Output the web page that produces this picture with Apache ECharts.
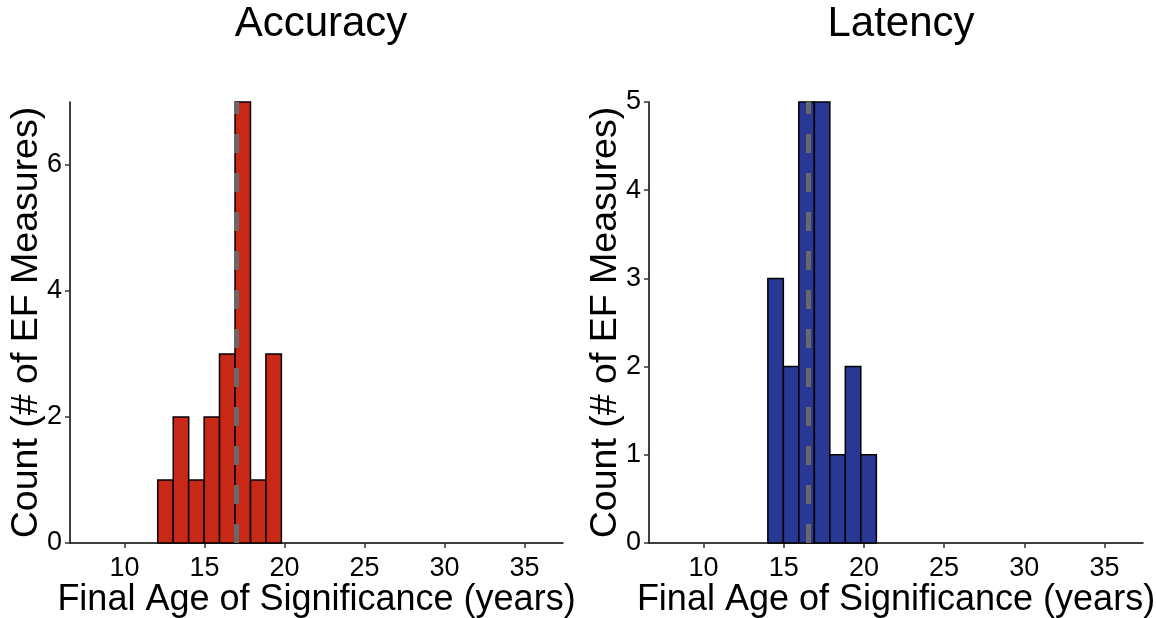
<!DOCTYPE html>
<html>
<head>
<meta charset="utf-8">
<script src="https://cdn.jsdelivr.net/npm/echarts@6/dist/echarts.min.js"></script>
<style>
html,body{margin:0;padding:0;background:#fff;}
#chart{width:1156px;height:618px;}
</style>
</head>
<body>
<div id="chart"></div>
<script>
// ---- data ----
var binWidth = 0.966;
var accBinStarts = [12.08, 13.05, 14.01, 14.98, 15.94, 16.91, 17.88, 18.84];
var accCounts    = [1, 2, 1, 2, 3, 7, 1, 3];
var latBinStarts = [14.01, 14.98, 15.94, 16.91, 17.88, 18.84, 19.81];
var latCounts    = [3, 2, 5, 5, 1, 2, 1];
var accRefLine = 17.0;
var latRefLine = 16.56;
var xTicks = [10, 15, 20, 25, 30, 35];
var accYTicks = [0, 2, 4, 6];
var latYTicks = [0, 1, 2, 3, 4, 5];
var titles = ['Accuracy', 'Latency'];
var xName = 'Final Age of Significance (years)';
var yName = 'Count (# of EF Measures)';

var FONT = '"Liberation Sans", Arial, Helvetica, sans-serif';

function binData(starts, counts){
  return starts.map(function(s,i){ return [s, s + binWidth, counts[i]]; });
}
function renderBar(params, api){
  var p0 = api.coord([api.value(0), api.value(2)]);
  var p1 = api.coord([api.value(1), 0]);
  return {
    type: 'rect',
    shape: {x: p0[0], y: p0[1], width: p1[0]-p0[0], height: p1[1]-p0[1]},
    style: {fill: api.visual('color'), stroke: '#000', lineWidth: 1.5}
  };
}
function xAxisCfg(gi){
  return {
    type: 'value', gridIndex: gi, min: 6.6, max: 37.4,
    name: xName, nameLocation: 'middle', nameGap: 39, nameMoveOverlap: false,
    nameTextStyle: {fontSize: 36, color: '#000', fontFamily: FONT},
    axisLine: {lineStyle: {color: '#000', width: 1.5}},
    axisTick: {customValues: xTicks, length: 5, lineStyle: {color: '#333', width: 1.5}},
    axisLabel: {customValues: xTicks, fontSize: 27, color: '#000', fontFamily: FONT, margin: 12},
    splitLine: {show: false}
  };
}
function yAxisCfg(gi, max, ticks){
  return {
    type: 'value', gridIndex: gi, min: 0, max: max,
    name: yName, nameLocation: 'middle', nameGap: 24, nameMoveOverlap: false,
    nameTextStyle: {fontSize: 37.5, color: '#000', fontFamily: FONT},
    axisLine: {show: true, lineStyle: {color: '#000', width: 1.5}},
    axisTick: {show: true, customValues: ticks, length: 5, lineStyle: {color: '#333', width: 1.5}},
    axisLabel: {customValues: ticks, fontSize: 27, color: '#000', fontFamily: FONT, margin: 8},
    splitLine: {show: false}
  };
}
function refLine(x){
  return {
    silent: true, symbol: ['none','none'], label: {show: false},
    lineStyle: {color: '#686868', width: 5, type: [19, 20]},
    data: [{xAxis: x}]
  };
}

var chart = echarts.init(document.getElementById('chart'), null, {renderer: 'canvas'});
chart.setOption({
  animation: false,
  backgroundColor: '#fff',
  title: [
    {text: titles[0], left: 316, top: -2, textAlign: 'center', textStyle: {fontSize: 42, fontWeight: 'normal', color: '#000', fontFamily: FONT}},
    {text: titles[1], left: 896, top: -2, textAlign: 'center', textStyle: {fontSize: 42, fontWeight: 'normal', color: '#000', fontFamily: FONT}}
  ],
  grid: [
    {left: 70, top: 102, width: 493, height: 441, outerBoundsMode: 'none', containLabel: false},
    {left: 649, top: 102, width: 494, height: 441, outerBoundsMode: 'none', containLabel: false}
  ],
  xAxis: [xAxisCfg(0), xAxisCfg(1)],
  yAxis: [yAxisCfg(0, 7, accYTicks), yAxisCfg(1, 5, latYTicks)],
  series: [
    {type: 'custom', xAxisIndex: 0, yAxisIndex: 0, renderItem: renderBar,
     itemStyle: {color: '#C82916'}, encode: {x: [0,1], y: 2},
     data: binData(accBinStarts, accCounts), markLine: refLine(accRefLine)},
    {type: 'custom', xAxisIndex: 1, yAxisIndex: 1, renderItem: renderBar,
     itemStyle: {color: '#283894'}, encode: {x: [0,1], y: 2},
     data: binData(latBinStarts, latCounts), markLine: refLine(latRefLine)}
  ]
});
</script>
</body>
</html>
